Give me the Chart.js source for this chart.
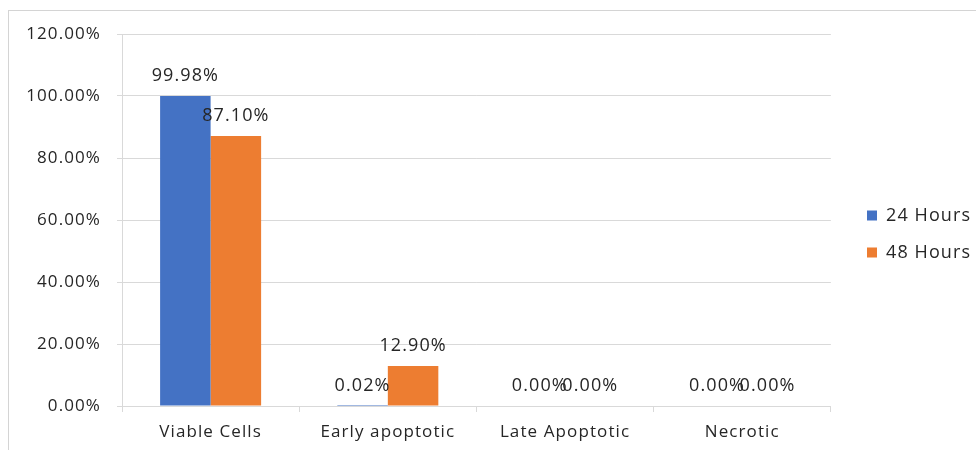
<!DOCTYPE html>
<html>
<head>
<meta charset="utf-8">
<script src="https://cdn.jsdelivr.net/npm/chart.js@4.4.1/dist/chart.umd.min.js"></script>
<style>
  html, body { margin: 0; padding: 0; background: #ffffff; }
  #wrap { position: relative; width: 976px; height: 450px; overflow: hidden; }
  #frame { position: absolute; left: 8px; top: 10px; width: 1100px; height: 600px;
           border: 1px solid #d4d4d4; box-sizing: border-box; }
  #chart { position: absolute; left: 0; top: 0; }
</style>
</head>
<body>
<div id="wrap">
  <div id="frame"></div>
  <canvas id="chart" width="976" height="450"></canvas>
</div>
<script>
// Cell populations after treatment (percent of cells)
const categories = ['Viable Cells', 'Early apoptotic', 'Late Apoptotic', 'Necrotic'];
const seriesNames = ['24 Hours', '48 Hours'];
const hours24 = [99.98, 0.02, 0.00, 0.00];
const hours48 = [87.10, 12.90, 0.00, 0.00];
const yTicks = [0, 20, 40, 60, 80, 100, 120];

const FONT = 'Open Sans';
const TEXT = '#262626';
const GRID = '#d9d9d9';
const SPACING = '1.1px';

const pct = v => v.toFixed(2) + '%';

// Slightly wider lettering for every text drawn on the canvas
const wideText = {
  id: 'wideText',
  beforeUpdate(chart) { chart.ctx.letterSpacing = SPACING; },
  beforeDraw(chart) { chart.ctx.letterSpacing = SPACING; }
};

// Legend sits a little above the middle, with its swatches at a fixed column
const legendPlacement = {
  id: 'legendPlacement',
  afterLayout(chart) {
    const lg = chart.legend;
    if (!lg) return;
    const dx = 867 - (lg.left + lg.options.labels.padding);
    lg.left += dx; lg.right += dx;
    lg.top -= 8; lg.bottom -= 8;
  }
};

// Writes each bar's value just above its top
const valueLabels = {
  id: 'valueLabels',
  afterDatasetsDraw(chart) {
    const ctx = chart.ctx;
    ctx.save();
    ctx.font = '18px "' + FONT + '"';
    ctx.fillStyle = TEXT;
    ctx.textAlign = 'center';
    ctx.textBaseline = 'middle';
    chart.data.datasets.forEach((ds, i) => {
      chart.getDatasetMeta(i).data.forEach((bar, j) => {
        ctx.fillText(pct(ds.data[j]), bar.x, bar.y - 20);
      });
    });
    ctx.restore();
  }
};

new Chart(document.getElementById('chart'), {
  type: 'bar',
  data: {
    labels: categories,
    datasets: [
      { label: seriesNames[0], data: hours24, backgroundColor: '#4472C4' },
      { label: seriesNames[1], data: hours48, backgroundColor: '#ED7D31' }
    ]
  },
  options: {
    responsive: false,
    animation: false,
    devicePixelRatio: 1,
    layout: { padding: { top: 34, right: 12, left: 0, bottom: 0 } },
    datasets: { bar: { categoryPercentage: 0.57, barPercentage: 1.0 } },
    plugins: {
      legend: {
        position: 'right',
        labels: {
          boxWidth: 10, boxHeight: 10, padding: 19,
          color: TEXT, font: { family: FONT, size: 18 }
        }
      },
      tooltip: { enabled: false }
    },
    scales: {
      x: {
        offset: true,
        grid: { drawOnChartArea: false, drawTicks: true, tickLength: 6, color: GRID },
        border: { display: true, color: GRID },
        ticks: { color: TEXT, font: { family: FONT, size: 17 }, padding: 10, maxRotation: 0 },
        afterFit(scale) { scale.height = 44; }
      },
      y: {
        min: 0, max: 120,
        afterBuildTicks(scale) { scale.ticks = yTicks.map(v => ({ value: v })); },
        grid: { color: GRID, tickLength: 5, drawTicks: true },
        border: { display: true, color: GRID },
        ticks: { color: TEXT, font: { family: FONT, size: 17 }, padding: 16, callback: v => pct(v) },
        afterFit(scale) { scale.width = 122; }
      }
    }
  },
  plugins: [wideText, legendPlacement, valueLabels]
});
</script>
</body>
</html>
